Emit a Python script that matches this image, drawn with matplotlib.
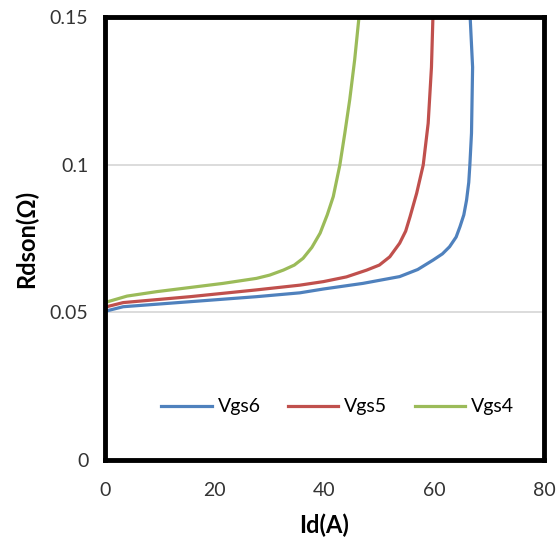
import matplotlib.pyplot as plt

# Id (A) and Rdson (ohm)
id_vgs6 = [0, 0.3, 3.3, 15.5, 27.6, 35.5, 39.8, 47, 53.7, 57.0, 59.8, 61.5, 62.8, 64.0, 64.7, 65.4, 65.9, 66.3, 66.5, 66.8, 67.0, 66.5]
r_vgs6 = [0.0505, 0.0505, 0.0519, 0.0536, 0.0553, 0.0566, 0.0579, 0.0598, 0.0621, 0.0645, 0.0677, 0.0698, 0.0722, 0.0755, 0.079, 0.083, 0.088, 0.094, 0.0999, 0.1107, 0.133, 0.152]

id_vgs5 = [0, 0.3, 3.3, 15.5, 27.6, 35.5, 39.8, 44.0, 47.7, 50.0, 51.9, 53.7, 54.8, 55.6, 56.8, 58.0, 58.9, 59.5, 59.8]
r_vgs5 = [0.0515, 0.0519, 0.0533, 0.0553, 0.0576, 0.0592, 0.0604, 0.062, 0.0643, 0.066, 0.0688, 0.0734, 0.0775, 0.0824, 0.0903, 0.0999, 0.114, 0.133, 0.152]

id_vgs4 = [0, 0.3, 4, 9.4, 21.5, 27.6, 30.0, 32.5, 34.5, 36.1, 37.7, 39.2, 40.5, 41.6, 42.8, 43.7, 44.6, 45.5, 46.4]
r_vgs4 = [0.053, 0.0535, 0.0555, 0.057, 0.0598, 0.0615, 0.0626, 0.0643, 0.066, 0.0683, 0.072, 0.0768, 0.083, 0.0892, 0.0999, 0.1106, 0.122, 0.1355, 0.152]

plt.rcParams['font.family'] = ['Lato', 'DejaVu Sans']

fig = plt.figure(figsize=(5.59, 5.58), dpi=100)
ax = fig.add_axes([0.188, 0.1756, 0.785, 0.794])

ax.plot(id_vgs6, r_vgs6, color='#4F81BD', lw=2.3, label='Vgs6')
ax.plot(id_vgs5, r_vgs5, color='#C0504D', lw=2.3, label='Vgs5')
ax.plot(id_vgs4, r_vgs4, color='#9BBB59', lw=2.3, label='Vgs4')

ax.set_xlim(0, 80)
ax.set_ylim(0, 0.15)
ax.set_xticks([0, 20, 40, 60, 80])
ax.set_yticks([0, 0.05, 0.1, 0.15])
ax.set_yticklabels(['0', '0.05', '0.1', '0.15'])
ax.tick_params(length=0, labelsize=14, pad=12, colors='#333333')
ax.tick_params(axis='x', pad=16)
ax.grid(axis='y', color='#D9D9D9', lw=1.3)
ax.set_axisbelow(True)
for s in ax.spines.values():
    s.set_linewidth(3.5)
    s.set_color('black')

ax.set_xlabel('Id(A)', fontsize=17, fontweight='bold', labelpad=10)
ax.set_ylabel('Rdson(Ω)', fontsize=17, fontweight='bold', labelpad=8)

ax.legend(loc='center', bbox_to_anchor=(0.53, 0.12), ncol=3, frameon=False,
          fontsize=14, handlelength=2.6, handletextpad=0.3, columnspacing=1.4)

fig.savefig('out.png', dpi=100)
